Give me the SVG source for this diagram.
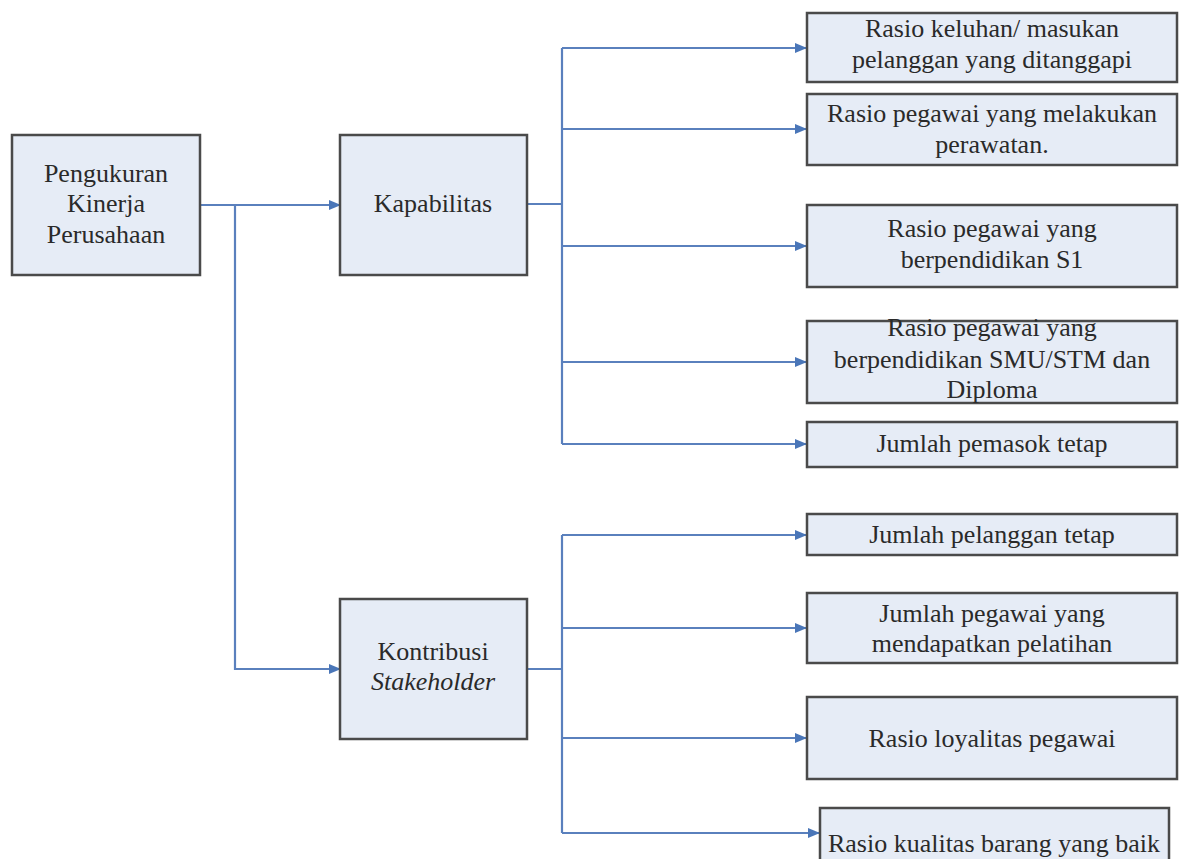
<svg xmlns="http://www.w3.org/2000/svg" width="1179" height="859" viewBox="0 0 1179 859">
<style>
.box{fill:#e6ecf6;stroke:#4a4a4a;stroke-width:2.5}
.t{font-family:"Liberation Serif","Times New Roman",serif;font-size:26px;fill:#2a2a2a;text-anchor:middle}
.c{fill:none;stroke:#5a80bd;stroke-width:2.2}
</style>
<defs>
<marker id="ah" markerWidth="12" markerHeight="10" refX="11" refY="5" orient="auto" markerUnits="userSpaceOnUse">
<path d="M0,0 L12,5 L0,10 Z" fill="#4a76b8"/>
</marker>
</defs>
<rect width="1179" height="859" fill="#ffffff"/>
<g id="connectors">
<path class="c" d="M200,205 H340" marker-end="url(#ah)"/>
<path class="c" d="M235,205 V669 H340" marker-end="url(#ah)"/>
<path class="c" d="M527,204 H562"/>
<path class="c" d="M562,48 V444"/>
<path class="c" d="M562,48 H806" marker-end="url(#ah)"/>
<path class="c" d="M562,129 H806" marker-end="url(#ah)"/>
<path class="c" d="M562,246 H806" marker-end="url(#ah)"/>
<path class="c" d="M562,362 H806" marker-end="url(#ah)"/>
<path class="c" d="M562,444 H806" marker-end="url(#ah)"/>
<path class="c" d="M527,669 H562"/>
<path class="c" d="M562,535 V833"/>
<path class="c" d="M562,535 H806" marker-end="url(#ah)"/>
<path class="c" d="M562,628 H806" marker-end="url(#ah)"/>
<path class="c" d="M562,738 H806" marker-end="url(#ah)"/>
<path class="c" d="M562,833 H819" marker-end="url(#ah)"/>
</g>
<g id="n-pengukuran">
<rect class="box" x="12" y="135" width="188" height="140"/>
<text class="t" x="106" y="182">Pengukuran</text>
<text class="t" x="106" y="212">Kinerja</text>
<text class="t" x="106" y="243">Perusahaan</text>
</g>
<g id="n-kapabilitas">
<rect class="box" x="340" y="135" width="187" height="140"/>
<text class="t" x="433" y="212">Kapabilitas</text>
</g>
<g id="n-kontribusi">
<rect class="box" x="340" y="599" width="187" height="140"/>
<text class="t" x="433" y="660">Kontribusi</text>
<text class="t" x="433" y="690" font-style="italic">Stakeholder</text>
</g>
<g id="n-keluhan">
<rect class="box" x="807" y="13" width="370" height="69"/>
<text class="t" x="992" y="37">Rasio keluhan/ masukan</text>
<text class="t" x="992" y="68">pelanggan yang ditanggapi</text>
</g>
<g id="n-perawatan">
<rect class="box" x="807" y="94" width="370" height="71"/>
<text class="t" x="992" y="122">Rasio pegawai yang melakukan</text>
<text class="t" x="992" y="153">perawatan.</text>
</g>
<g id="n-s1">
<rect class="box" x="807" y="205" width="370" height="82"/>
<text class="t" x="992" y="237">Rasio pegawai yang</text>
<text class="t" x="992" y="268">berpendidikan S1</text>
</g>
<g id="n-smu">
<rect class="box" x="807" y="321" width="370" height="82"/>
<text class="t" x="992" y="336">Rasio pegawai yang</text>
<text class="t" x="992" y="368">berpendidikan SMU/STM dan</text>
<text class="t" x="992" y="398">Diploma</text>
</g>
<g id="n-pemasok">
<rect class="box" x="807" y="422" width="370" height="45"/>
<text class="t" x="992" y="452">Jumlah pemasok tetap</text>
</g>
<g id="n-pelanggan">
<rect class="box" x="807" y="514" width="370" height="41"/>
<text class="t" x="992" y="543">Jumlah pelanggan tetap</text>
</g>
<g id="n-pelatihan">
<rect class="box" x="807" y="593" width="370" height="70"/>
<text class="t" x="992" y="622">Jumlah pegawai yang</text>
<text class="t" x="992" y="652">mendapatkan pelatihan</text>
</g>
<g id="n-loyalitas">
<rect class="box" x="807" y="697" width="370" height="82"/>
<text class="t" x="992" y="747">Rasio loyalitas pegawai</text>
</g>
<g id="n-kualitas">
<rect class="box" x="820" y="808" width="349" height="70"/>
<text class="t" x="994" y="852">Rasio kualitas barang yang baik</text>
</g>
</svg>
